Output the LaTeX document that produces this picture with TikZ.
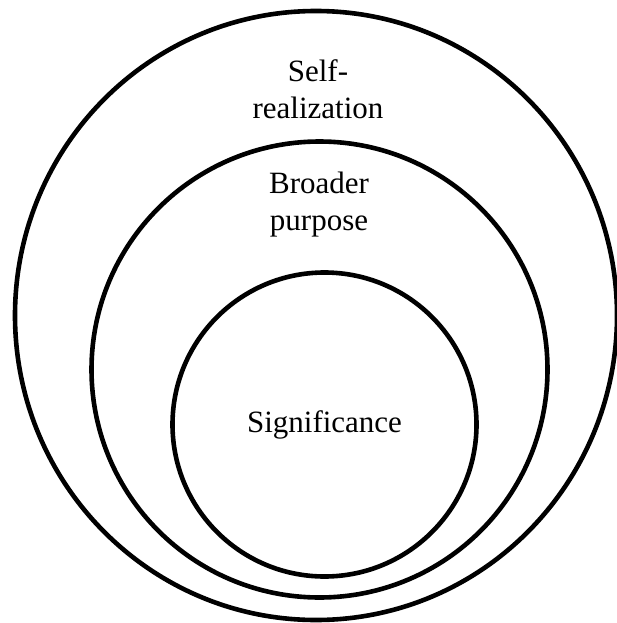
\documentclass[tikz,border=0pt]{standalone}
\usepackage{fontspec}
\setmainfont{Liberation Serif}
\usetikzlibrary{shapes.geometric}
\begin{document}
\begin{tikzpicture}[x=1pt,y=-1pt,
  ring/.style={draw=black, line width=4.6pt, ellipse, inner sep=0pt, outer sep=0pt},
  lbl/.style={align=center, font=\fontsize{31}{37}\selectfont, inner sep=0pt}]
\useasboundingbox (0,0) rectangle (616,623);
\node[ring, minimum width=602pt, minimum height=609pt] (outer) at (316,315.5) {};
\node[ring, minimum width=456pt, minimum height=456pt] (middle) at (319.5,369.5) {};
\node[ring, minimum width=304pt, minimum height=304pt, font=\fontsize{31}{37}\selectfont] (inner) at (324.5,424.5) {Significance};
\node[lbl] (self) at (318,89) {Self-\\realization};
\node[lbl] (broad) at (319,205) {Broader\\purpose};
\end{tikzpicture}
\end{document}
